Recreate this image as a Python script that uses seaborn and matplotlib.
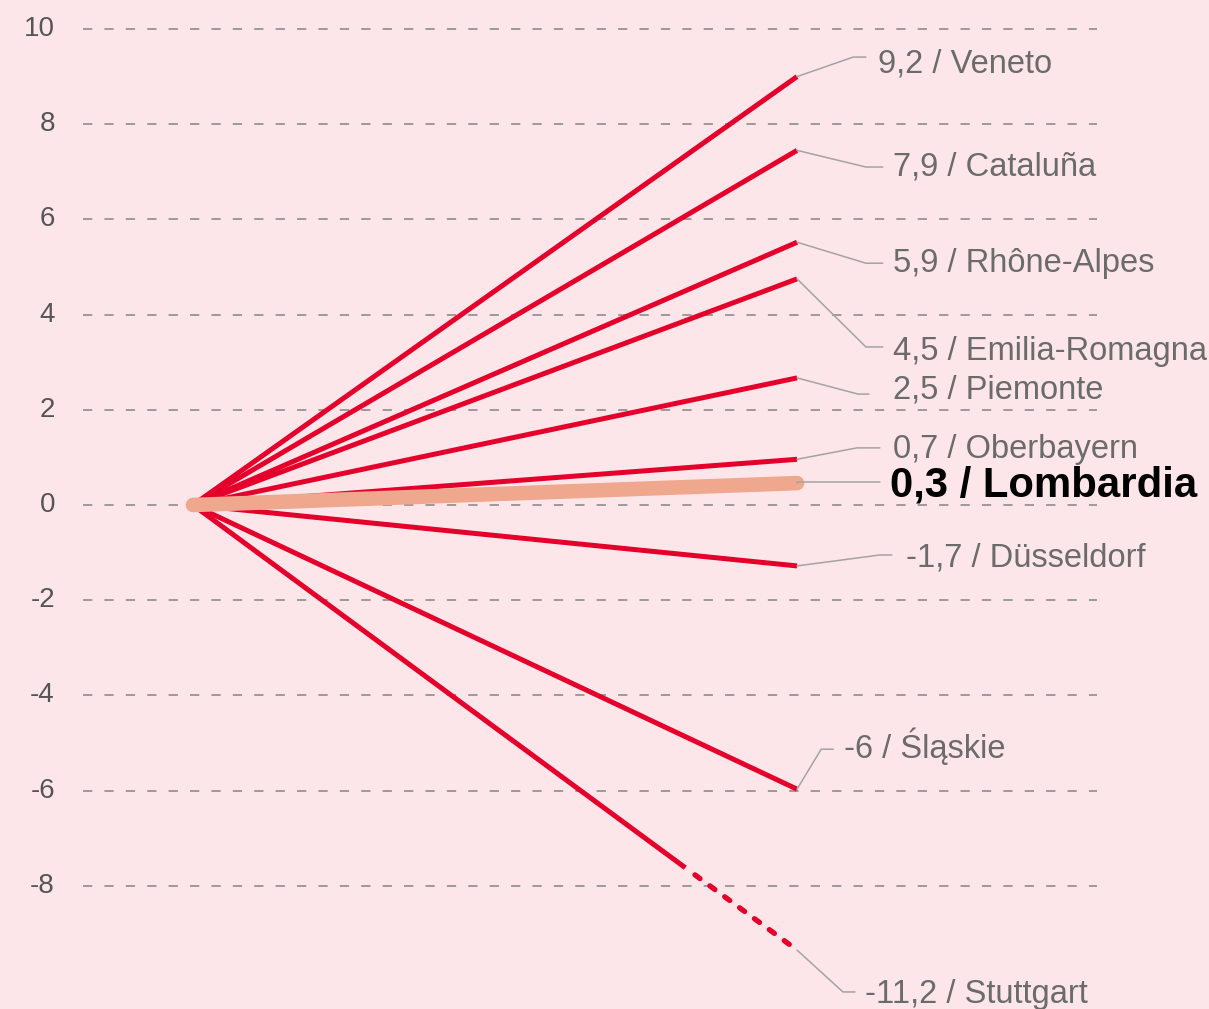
import pandas as pd
import matplotlib.pyplot as plt
import seaborn as sns

# values printed in the labels
regions = ["Veneto", "Cataluña", "Rhône-Alpes", "Emilia-Romagna", "Piemonte",
           "Oberbayern", "Lombardia", "Düsseldorf", "Śląskie", "Stuttgart"]
label_values = ["9,2", "7,9", "5,9", "4,5", "2,5", "0,7", "0,3", "-1,7", "-6", "-11,2"]
# where each line actually ends on the chart
line_end = [9.0, 7.45, 5.52, 4.75, 2.67, 0.96, 0.46, -1.28, -5.97, -9.35]
# Stuttgart turns dotted at this share of its length
stuttgart_break = 0.815

y_ticks = [-8, -6, -4, -2, 0, 2, 4, 6, 8, 10]

# label layout (data units)
label_x = [1.134, 1.159, 1.159, 1.159, 1.159, 1.159, 1.154, 1.180, 1.078, 1.113]
label_y = [9.08, 6.93, 4.89, 3.05, 2.23, 0.99, 0.17, -1.30, -5.32, -10.46]
elbow_x = [1.093, 1.114, 1.114, 1.114, 1.101, 1.099, 1.0, 1.137, 1.040, 1.076]
elbow_end_x = [1.114, 1.142, 1.142, 1.142, 1.119, 1.137, 1.137, 1.157, 1.060, 1.096]
elbow_y = [9.41, 7.10, 5.08, 3.32, 2.33, 1.20, 0.48, -1.05, -5.13, -10.23]

bg = "#fde6ea"
red = "#e4002b"
highlight = "#efa78e"
grey_text = "#6b6b6b"

sns.set_theme(style="white")
plt.rcParams["font.family"] = ["Liberation Sans", "DejaVu Sans"]

fig = plt.figure(figsize=(12.09, 10.09), dpi=100, facecolor=bg)
ax = fig.add_axes([0, 0, 1, 1])
ax.set_facecolor(bg)
ax.set_xlim(-0.3195, 1.682)
ax.set_ylim(-10.588, 10.609)
ax.axis("off")

# dashed grid
ax.hlines(y_ticks, -0.182, 1.497, colors="#888888", linewidth=1.15,
          linestyles=(0, (5.8, 7.6)), zorder=1)
for t in y_ticks:
    ax.text(-0.2285, t, str(t), ha="right", va="center", fontsize=20,
            color="#555555")

# build a long table for the red lines
rows = []
for reg, end in zip(regions, line_end):
    if reg == "Lombardia":
        continue
    stop = stuttgart_break if reg == "Stuttgart" else 1.0
    rows.append({"region": reg, "x": 0.0, "y": 0.0})
    rows.append({"region": reg, "x": stop, "y": end * stop})
df = pd.DataFrame(rows)

sns.lineplot(data=df, x="x", y="y", units="region", estimator=None,
             color=red, linewidth=3.6, ax=ax, zorder=3,
             solid_capstyle="butt")

# dotted tail of Stuttgart
st = line_end[regions.index("Stuttgart")]
tail = pd.DataFrame({"x": [stuttgart_break + 0.016, 1.0],
                     "y": [st * (stuttgart_break + 0.016), st]})
sns.lineplot(data=tail, x="x", y="y", color=red, linewidth=3.8, ax=ax,
             zorder=3, linestyle=(0, (1.2, 2.3)), dash_capstyle="round")

# highlighted Lombardia
lo = line_end[regions.index("Lombardia")]
lom = pd.DataFrame({"x": [0.0, 1.0], "y": [0.0, lo]})
sns.lineplot(data=lom, x="x", y="y", color=highlight, linewidth=10.5, ax=ax,
             zorder=4, solid_capstyle="round")

# connectors and labels
for i, reg in enumerate(regions):
    ax.plot([1.0, elbow_x[i], elbow_end_x[i]],
            [line_end[i], elbow_y[i], elbow_y[i]],
            color="#a3a3a3", linewidth=1.1, zorder=5)
    txt = f"{label_values[i]} / {reg}"
    if reg == "Lombardia":
        ax.text(label_x[i], label_y[i], txt, fontsize=30.2, fontweight="bold",
                color="black", ha="left", va="baseline")
    else:
        ax.text(label_x[i], label_y[i], txt, fontsize=23.5, color=grey_text,
                ha="left", va="baseline")

if ax.get_legend():
    ax.get_legend().remove()

fig.savefig("out.png", dpi=100, facecolor=bg)
